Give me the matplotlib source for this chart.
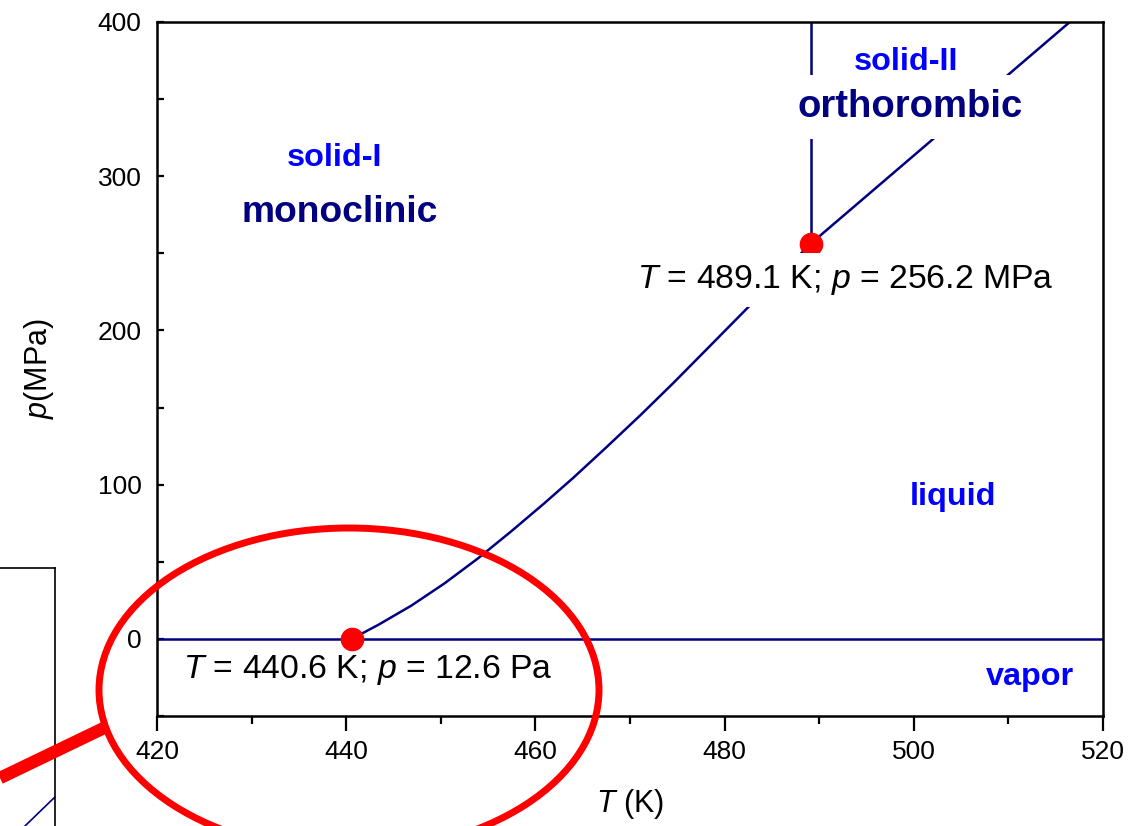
import matplotlib
matplotlib.use('Agg')
import matplotlib.pyplot as plt
from matplotlib.patches import Ellipse
from matplotlib.lines import Line2D
from matplotlib.ticker import MultipleLocator

plt.rcParams['font.family'] = ['Liberation Sans', 'DejaVu Sans']
plt.rcParams['mathtext.fontset'] = 'custom'
plt.rcParams['mathtext.rm'] = 'Liberation Sans'
plt.rcParams['mathtext.it'] = 'Liberation Sans:italic'

# melting curve solid-I / liquid (T in K, p in MPa)
melt_T = [440.6, 443.4, 446.9, 450.4, 454.0, 457.5, 461.0, 464.0, 467.5,
          471.1, 474.6, 478.1, 482.7, 489.1]
melt_p = [0.0, 9.1, 21.6, 36.0, 52.5, 70.0, 88.2, 104.4, 124.2,
          145.0, 166.0, 187.7, 216.3, 256.2]
# solid-II / liquid boundary above the triple point
melt2_T = [489.1, 502.5, 516.5]
melt2_p = [256.2, 326.5, 400.0]
# solid-I / solid-II boundary
solid_T = [489.1, 489.1]
solid_p = [256.2, 400.0]
# vapour line (pressures of a few Pa are ~0 on this scale)
vap_T = [420.0, 520.0]
vap_p = [0.0, 0.0]

# triple points
tp_T = [440.6, 489.1]
tp_p = [12.6e-6, 256.2]

navy = '#000080'
blue = '#0000FF'

fig = plt.figure(figsize=(11.4, 8.26), dpi=100)
ax = fig.add_axes([0.1377, 0.1332, 0.8298, 0.8402])

ax.plot(vap_T, vap_p, color=navy, lw=1.8, zorder=2)
ax.plot(melt_T, melt_p, color=navy, lw=1.8, zorder=2)
ax.plot(melt2_T, melt2_p, color=navy, lw=1.8, zorder=2)
ax.plot(solid_T, solid_p, color=navy, lw=1.8, zorder=2)
ax.plot(tp_T, tp_p, 'o', color='red', ms=16, zorder=3, clip_on=False)

ax.set_xlim(420, 520)
ax.set_ylim(-50, 400)
ax.xaxis.set_major_locator(MultipleLocator(20))
ax.xaxis.set_minor_locator(MultipleLocator(10))
ax.yaxis.set_major_locator(MultipleLocator(100))
ax.yaxis.set_minor_locator(MultipleLocator(50))
ax.tick_params(axis='x', which='major', direction='out', length=11, width=1.6,
               labelsize=19, pad=6)
ax.tick_params(axis='x', which='minor', direction='out', length=6, width=1.6)
ax.tick_params(axis='y', which='both', direction='in', length=5, width=1.6,
               labelsize=19, pad=11)
for s in ax.spines.values():
    s.set_linewidth(1.8)

ax.set_xlabel('$T$ (K)', fontsize=22, labelpad=17)
ax.set_ylabel('$p$(MPa)', fontsize=22, labelpad=30)

# phase labels
ax.text(438.8, 311.7, 'solid-I', color=blue, fontsize=23.3, fontweight='bold',
        ha='center', va='center')
ax.text(439.3, 276.6, 'monoclinic', color=navy, fontsize=26.8, fontweight='bold',
        ha='center', va='center')
ax.text(499.2, 374.0, 'solid-II', color=blue, fontsize=23.3, fontweight='bold',
        ha='center', va='center')
ax.text(499.6, 345.0, 'orthorombic', color=navy, fontsize=27.5, fontweight='bold',
        ha='center', va='center', zorder=5,
        bbox=dict(facecolor='white', edgecolor='none', pad=10))
ax.text(504.1, 92.2, 'liquid', color=blue, fontsize=23.3, fontweight='bold',
        ha='center', va='center')
ax.text(512.3, -24.7, 'vapor', color=blue, fontsize=23.3, fontweight='bold',
        ha='center', va='center')

# triple point annotations
ax.text(492.8, 232.8, '$T$ = %.1f K; $p$ = %.1f MPa' % (tp_T[1], tp_p[1]),
        fontsize=24.3, ha='center', va='center', zorder=5,
        bbox=dict(facecolor='white', edgecolor='none', pad=7))
ax.text(442.3, -20.5, '$T$ = %.1f K; $p$ = %.1f Pa' % (tp_T[0], tp_p[0] * 1e6),
        fontsize=24.3, ha='center', va='center', zorder=5)

# zoom-out frame partly visible at the lower left
ins = fig.add_axes([-0.1, -0.1, 0.1482, 0.4123])
ins.set_xlim(0, 1)
ins.set_ylim(0, 1)
ins.set_xticks([])
ins.set_yticks([])
ins.spines['left'].set_visible(False)
ins.spines['bottom'].set_visible(False)
ins.spines['top'].set_linewidth(1.2)
ins.spines['right'].set_linewidth(1.2)
ins.plot([0.7, 1.0], [0.1837, 0.3277], color=navy, lw=1.2)
ins.patch.set_alpha(0)

# red magnifier circle around the lower triple point
fig.patches.append(Ellipse((349 / 1140, 1 - 690 / 826), 500 / 1140, 324 / 826,
                           transform=fig.transFigure, fill=False,
                           edgecolor='red', lw=5, zorder=10))
fig.lines.append(Line2D([0 / 1140, 106 / 1140], [1 - 778 / 826, 1 - 727 / 826],
                        transform=fig.transFigure, color='red', lw=9,
                        solid_capstyle='butt', zorder=10))

fig.savefig('out.png', dpi=100)
